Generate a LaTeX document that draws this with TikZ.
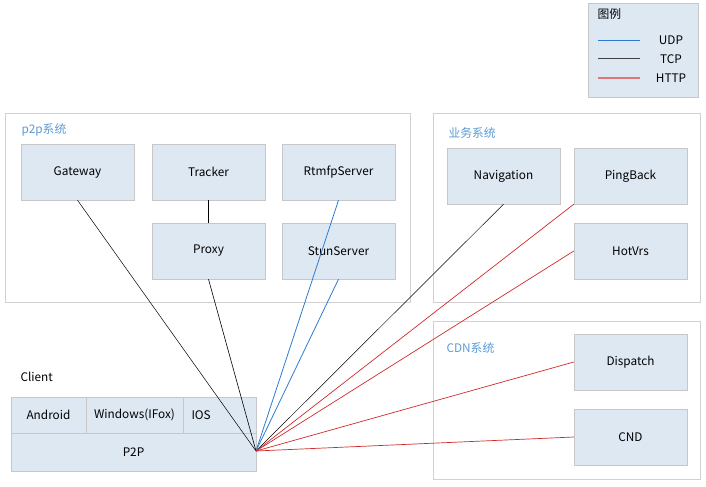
\documentclass[tikz,border=0pt]{standalone}
\usepackage{fontspec}
\setmainfont{Noto Sans CJK SC}
\newfontfamily\cjk{Noto Sans CJK SC}
\begin{document}
\begin{tikzpicture}[x=1bp,y=-1bp,
  tfont/.style={font=\fontsize{11.8bp}{14bp}\selectfont},
  box/.style={draw=black!22,fill=boxfill,minimum width=113bp,minimum height=56bp,inner sep=0pt,tfont},
  cbox/.style={draw=black!22,fill=boxfill,inner sep=0pt,tfont},
  group/.style={draw=black!18,fill=white,line width=1pt},
  glabel/.style={anchor=west,text=glab,tfont},
  udp/.style={draw=udpc,line width=0.8pt},
  tcp/.style={draw=black,line width=0.6pt},
  http/.style={draw=httpc,line width=0.7pt}]
\definecolor{boxfill}{HTML}{DEE8F3}
\definecolor{glab}{HTML}{5B9BD5}
\definecolor{udpc}{HTML}{2E7BCF}
\definecolor{httpc}{HTML}{D02A2A}
\useasboundingbox[fill=white] (0,0) rectangle (706,487);
% legend
\node[draw=black!22,fill=boxfill,minimum width=110bp,minimum height=94bp,inner sep=0pt] (legend) at (643,50) {};
\node[anchor=west,tfont] (lgt) at (594,14) {图例};
\coordinate (u1) at (598,40); \coordinate (u2) at (640,40);
\coordinate (t1) at (598,59); \coordinate (t2) at (640,59);
\coordinate (h1) at (598,78); \coordinate (h2) at (640,78);
\draw[draw=udpc,line width=0.9pt] (u1) -- (u2);
\draw[draw=black!75,line width=1pt] (t1) -- (t2);
\draw[draw=httpc!65,line width=1.2pt] (h1) -- (h2);
\node[tfont] (lu) at (671,40) {UDP};
\node[tfont] (lt) at (671,59) {TCP};
\node[tfont] (lh) at (671,78) {HTTP};
% groups
\draw[group] (5,114) rectangle (410,302);
\node[glabel] (g1) at (18,130) {p2p系统};
\draw[group] (433,114) rectangle (700,302);
\node[glabel] (g2) at (445,133) {业务系统};
\draw[group] (433,321) rectangle (700,479);
\node[glabel] (g3) at (443,348) {CDN系统};
% p2p boxes
\node[box] (gw) at (77.5,172) {Gateway};
\node[box] (tr) at (208.5,172) {Tracker};
\node[box] (rt) at (338.5,172) {RtmfpServer};
\node[box] (px) at (208.5,251) {Proxy};
\node[box] (st) at (338.5,251) {StunServer};
% business
\node[box] (nav) at (503.5,176) {Navigation};
\node[box] (pb) at (630.5,176) {PingBack};
\node[box] (hv) at (630.5,251) {HotVrs};
% cdn
\node[box] (dp) at (630.5,362) {Dispatch};
\node[box] (cnd) at (630.5,437) {CND};
% client
\node[anchor=west,tfont] (cl) at (17,377) {Client};
\node[cbox,minimum width=75bp,minimum height=36bp] (and) at (48.5,415) {Android};
\node[cbox,minimum width=97bp,minimum height=36bp] (win) at (134.5,415) {Windows(IFox)};
\node[cbox,minimum width=73bp,minimum height=36bp,text width=56bp,align=left] (ios) at (219.5,415) {IOS};
\node[cbox,minimum width=245bp,minimum height=38bp] (p2p) at (133.5,452) {P2P};
\coordinate (cp) at (256,451);
% connectors
\draw[tcp] (tr.south) -- (px.north);
\draw[tcp,line width=0.5pt] (cp) -- (gw.south);
\draw[tcp] (cp) -- (px.south);
\draw[tcp,line width=0.5pt] (cp) -- (nav.south);
\draw[udp] (cp) -- (st.south);
\draw[udp] (cp) -- (rt.south);
\draw[http] (cp) -- (pb.south west);
\draw[http] (cp) -- (hv.west);
\draw[http] (cp) -- (dp.west);
\draw[http] (cp) -- (cnd.west);
\end{tikzpicture}
\end{document}
